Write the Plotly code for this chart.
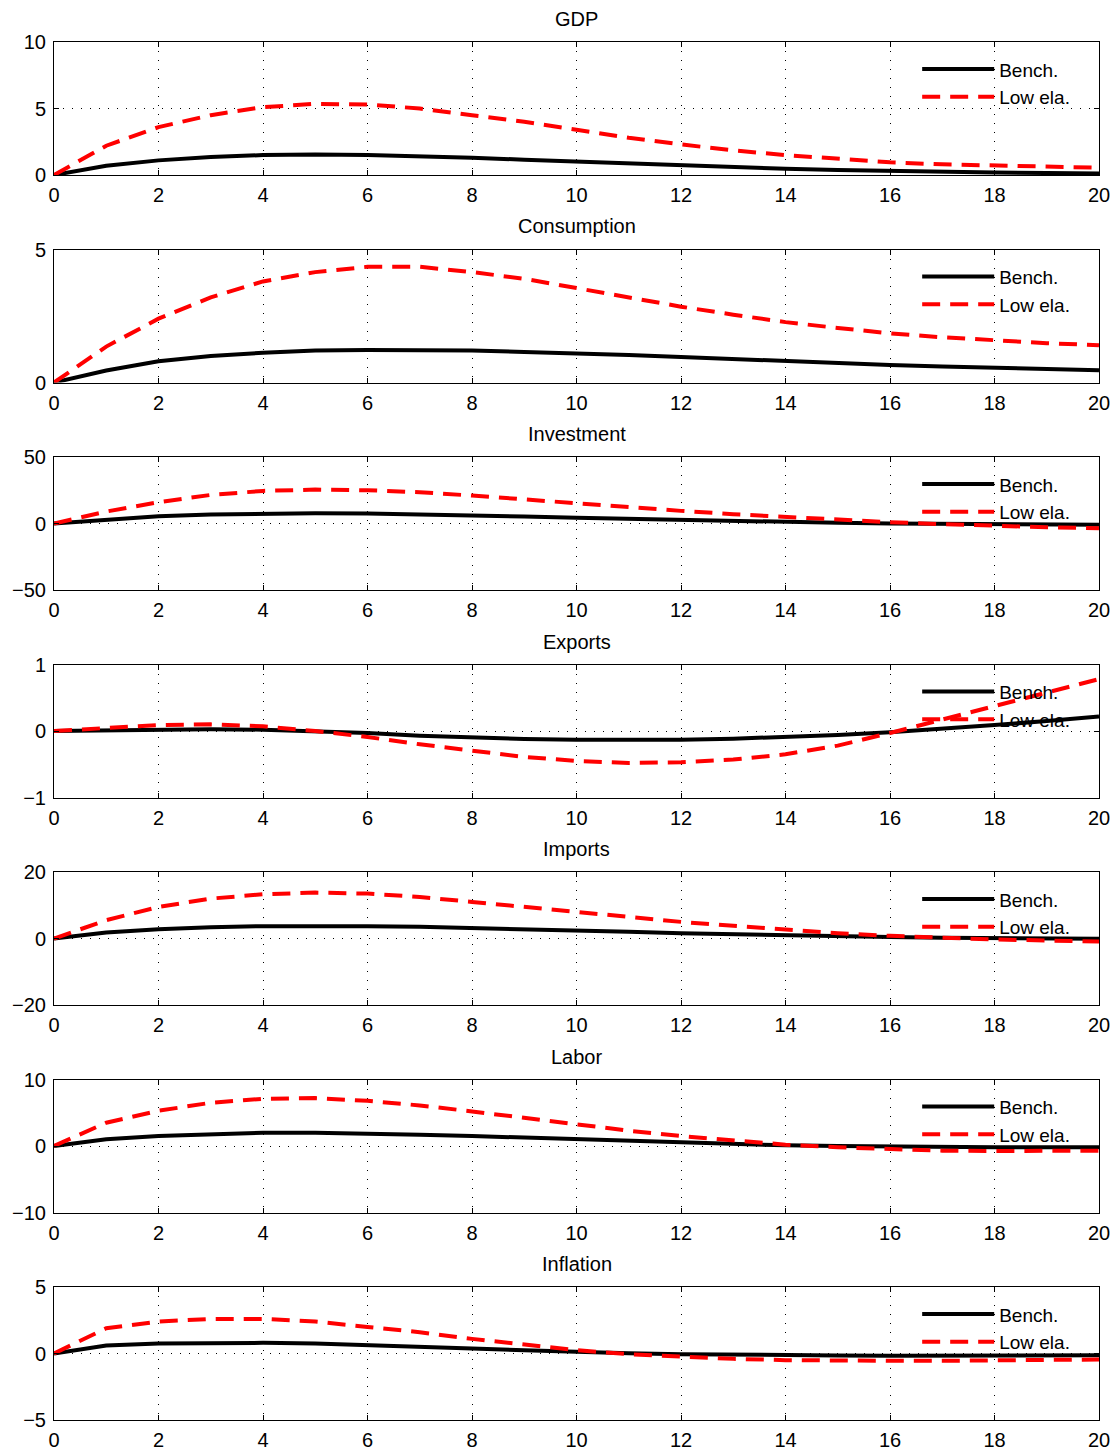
import plotly.graph_objects as go
from plotly.subplots import make_subplots

# quarters after the shock
quarters = list(range(21))

titles = ["GDP", "Consumption", "Investment", "Exports", "Imports", "Labor", "Inflation"]
y_ranges = [(0, 10), (0, 5), (-50, 50), (-1, 1), (-20, 20), (-10, 10), (-5, 5)]
y_ticks = [[0, 5, 10], [0, 5], [-50, 0, 50], [-1, 0, 1], [-20, 0, 20], [-10, 0, 10], [-5, 0, 5]]

# benchmark responses
gdp_bench = [0, 0.7, 1.1, 1.35, 1.5, 1.55, 1.5, 1.42, 1.3, 1.15, 1.0, 0.85, 0.7, 0.58, 0.47, 0.38, 0.3, 0.23, 0.18, 0.15, 0.12]
cons_bench = [0, 0.45, 0.8, 1.0, 1.12, 1.2, 1.22, 1.22, 1.2, 1.15, 1.1, 1.03, 0.96, 0.88, 0.8, 0.73, 0.66, 0.6, 0.55, 0.5, 0.46]
inv_bench = [0, 3, 5.5, 6.8, 7.5, 7.8, 7.6, 7.0, 6.2, 5.3, 4.3, 3.4, 2.6, 1.8, 1.1, 0.5, 0, -0.4, -0.7, -0.9, -1.0]
exp_bench = [0, 0.01, 0.02, 0.025, 0.02, 0.0, -0.03, -0.07, -0.1, -0.12, -0.13, -0.135, -0.13, -0.115, -0.09, -0.06, -0.02, 0.03, 0.09, 0.15, 0.22]
imp_bench = [0, 1.8, 2.8, 3.4, 3.7, 3.8, 3.7, 3.5, 3.2, 2.8, 2.4, 2.0, 1.6, 1.25, 0.95, 0.7, 0.45, 0.25, 0.1, 0, -0.1]
lab_bench = [0, 1.0, 1.5, 1.8, 2.0, 2.0, 1.9, 1.7, 1.5, 1.25, 1.0, 0.75, 0.5, 0.3, 0.1, 0, -0.1, -0.15, -0.2, -0.2, -0.2]
inf_bench = [0, 0.6, 0.75, 0.8, 0.8, 0.75, 0.65, 0.5, 0.38, 0.25, 0.12, 0.02, -0.05, -0.1, -0.13, -0.15, -0.16, -0.16, -0.15, -0.15, -0.14]

# low elasticity responses
gdp_low = [0, 2.2, 3.6, 4.5, 5.1, 5.35, 5.3, 5.0, 4.5, 4.0, 3.4, 2.8, 2.3, 1.85, 1.5, 1.2, 0.95, 0.8, 0.7, 0.6, 0.55]
cons_low = [0, 1.35, 2.4, 3.2, 3.8, 4.15, 4.35, 4.35, 4.15, 3.9, 3.55, 3.2, 2.85, 2.55, 2.27, 2.05, 1.85, 1.7, 1.58, 1.48, 1.4]
inv_low = [0, 9, 16, 21.5, 24.5, 25.5, 25, 23.5, 21, 18, 15, 12, 9.5, 7, 4.8, 2.8, 1.0, -0.5, -1.8, -2.8, -3.5]
exp_low = [0, 0.05, 0.09, 0.1, 0.07, 0.0, -0.09, -0.2, -0.3, -0.39, -0.45, -0.48, -0.47, -0.43, -0.35, -0.22, -0.03, 0.17, 0.37, 0.57, 0.78]
imp_low = [0, 5.5, 9.5, 12, 13.3, 13.8, 13.5, 12.5, 11, 9.5, 8, 6.5, 5, 3.8, 2.6, 1.6, 0.8, 0.2, -0.3, -0.6, -0.9]
lab_low = [0, 3.5, 5.3, 6.5, 7.1, 7.2, 6.8, 6.1, 5.2, 4.2, 3.2, 2.3, 1.5, 0.8, 0.2, -0.2, -0.5, -0.7, -0.75, -0.75, -0.7]
inf_low = [0, 1.9, 2.4, 2.6, 2.6, 2.4, 2.0, 1.6, 1.1, 0.65, 0.25, -0.05, -0.25, -0.4, -0.5, -0.55, -0.55, -0.55, -0.5, -0.5, -0.45]

bench = [gdp_bench, cons_bench, inv_bench, exp_bench, imp_bench, lab_bench, inf_bench]
low = [gdp_low, cons_low, inv_low, exp_low, imp_low, lab_low, inf_low]

FONT = "Liberation Sans, Arial, Helvetica, sans-serif"
FS = 20

fig = make_subplots(rows=7, cols=1, subplot_titles=titles,
                    vertical_spacing=74.5 / 1378)

for i in range(7):
    leg = "legend" if i == 0 else "legend%d" % (i + 1)
    fig.add_trace(go.Scatter(x=quarters, y=bench[i], mode="lines", name="Bench.",
                             line=dict(color="black", width=4), legend=leg),
                  row=i + 1, col=1)
    fig.add_trace(go.Scatter(x=quarters, y=low[i], mode="lines", name="Low ela.",
                             line=dict(color="red", width=4, dash="18px,10px"), legend=leg),
                  row=i + 1, col=1)

    fig.update_xaxes(range=[0, 20], dtick=2, tick0=0, showline=True, linecolor="black",
                     linewidth=1, mirror="ticks", ticks="inside", ticklen=5,
                     tickcolor="black", showgrid=True, gridcolor="black", gridwidth=1,
                     griddash="1px,8px", zeroline=False, ticklabelstandoff=2,
                     automargin=False,
                     tickfont=dict(size=FS, color="black"), row=i + 1, col=1)
    fig.update_yaxes(range=list(y_ranges[i]), tickmode="array", tickvals=y_ticks[i],
                     showline=True, linecolor="black", linewidth=1, mirror="ticks",
                     ticks="inside", ticklen=5, tickcolor="black", showgrid=True,
                     gridcolor="black", gridwidth=1, griddash="1px,8px", zeroline=False,
                     ticklabelstandoff=3, automargin=False,
                     tickfont=dict(size=FS, color="black"), row=i + 1, col=1)

    # one legend per panel, top right inside the axes
    dom = fig.layout["yaxis" if i == 0 else "yaxis%d" % (i + 1)].domain
    fig.layout[leg] = dict(x=0.826, xanchor="left", y=dom[1] - 0.006, yanchor="top",
                           bgcolor="rgba(0,0,0,0)", borderwidth=0, itemwidth=72,
                           tracegroupgap=0, font=dict(size=19, color="black", family=FONT))

for ann in fig.layout.annotations:
    ann.font = dict(size=FS, color="black", family=FONT)
    ann.yshift = 10

fig.update_layout(width=1120, height=1452, plot_bgcolor="white", paper_bgcolor="white",
                  margin=dict(l=54, r=21, t=42, b=32, autoexpand=False), showlegend=True,
                  font=dict(family=FONT, size=FS, color="black"))

# drop the default page margin and scrollbars so the figure fills the window exactly
page_css = ("document.documentElement.style.overflow='hidden';"
            "document.body.style.overflow='hidden';"
            "document.body.style.margin='0';")
fig.write_html("out.html", post_script=page_css, config={"displayModeBar": False})
